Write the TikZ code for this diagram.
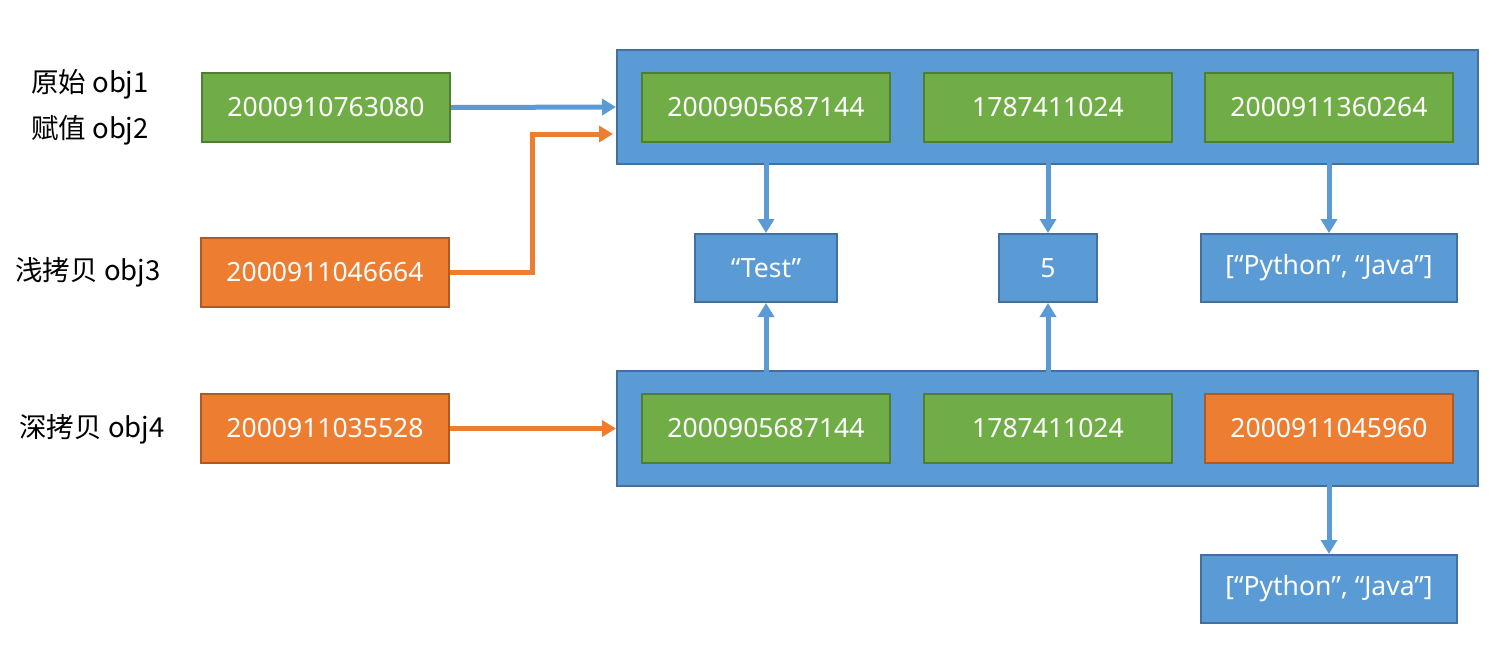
\documentclass[tikz,border=0pt]{standalone}
\usepackage{fontspec}
\setmainfont{Noto Sans}
\newfontfamily\cjk{Noto Sans CJK SC}
\usetikzlibrary{arrows.meta,calc}
\definecolor{gfill}{HTML}{70AD47}
\definecolor{gline}{HTML}{507E32}
\definecolor{bfill}{HTML}{5B9BD5}
\definecolor{bline}{HTML}{41719C}
\definecolor{ofill}{HTML}{ED7D31}
\definecolor{oline}{HTML}{AE5A21}
\begin{document}
\begin{tikzpicture}[x=1pt,y=-1pt,
  box/.style={rectangle,inner sep=0pt,line width=2pt,text=white,font=\fontsize{26.5}{30}\selectfont},
  gbox/.style={box,fill=gfill,draw=gline,minimum width=248pt,minimum height=69pt},
  obox/.style={box,fill=ofill,draw=oline,minimum width=248pt,minimum height=69pt},
  bbox/.style={box,fill=bfill,draw=bline,minimum height=68pt},
  frame/.style={rectangle,inner sep=0pt,fill=bfill,draw=bline,line width=2pt,minimum width=861pt},
  lbl/.style={font=\cjk\fontsize{27.5}{30}\selectfont,text=black},
  barrow/.style={draw=bfill,line width=5pt,-{Triangle[length=14pt,width=16pt]}},
  oarrow/.style={draw=ofill,line width=5pt,-{Triangle[length=14pt,width=16pt]}}]
\useasboundingbox (0,0) rectangle (1511,657);

% row labels
\node[lbl] (l1) at (90,84) {原始 obj1};
\node[lbl] (l2) at (90,130) {赋值 obj2};
\node[lbl] (l3) at (88,272) {浅拷贝 obj3};
\node[lbl] (l4) at (92,429) {深拷贝 obj4};

% variable boxes
\node[gbox] (v1) at (326,107.5) {2000910763080};
\node[obox] (v3) at (325,272) {2000911046664};
\node[obox] (v4) at (325,428.5) {2000911035528};

% list containers
\node[frame,minimum height=114pt] (top) at (1047.5,107) {};
\node[frame,minimum height=115pt] (bot) at (1047.5,428.5) {};

% shared element objects
\node[bbox,minimum width=142pt] (test) at (766,268) {“Test”};
\node[bbox,minimum width=98pt] (five) at (1048,268) {5};
\node[bbox,minimum width=256pt] (py1) at (1329,268) {[“Python”, “Java”]};
\node[bbox,minimum width=256pt] (py2) at (1329,589) {[“Python”, “Java”]};

% upward references from the deep copy
\draw[barrow] (test.south |- 0,394) -- (test.south);
\draw[barrow] (five.south |- 0,394) -- (five.south);

% elements of the original list
\node[gbox] (t1) at (766,107.5) {2000905687144};
\node[gbox] (t2) at (1048,107.5) {1787411024};
\node[gbox] (t3) at (1329,107.5) {2000911360264};

% elements of the deep copy
\node[gbox] (b1) at (766,428.5) {2000905687144};
\node[gbox] (b2) at (1048,428.5) {1787411024};
\node[obox] (b3) at (1329,428.5) {2000911045960};

% references
\draw[barrow] (t1.south) -- (test.north);
\draw[barrow] (t2.south) -- (five.north);
\draw[barrow] (t3.south) -- (py1.north);
\draw[barrow] (b3.south) -- (py2.north);

\draw[barrow] (v1.east) -- (top.west);
\draw[oarrow] (v3.east) -- (532,272) |- ($(top.west)+(-3,27)$);
\draw[oarrow] (v4.east) -- (bot.west);
\end{tikzpicture}
\end{document}
